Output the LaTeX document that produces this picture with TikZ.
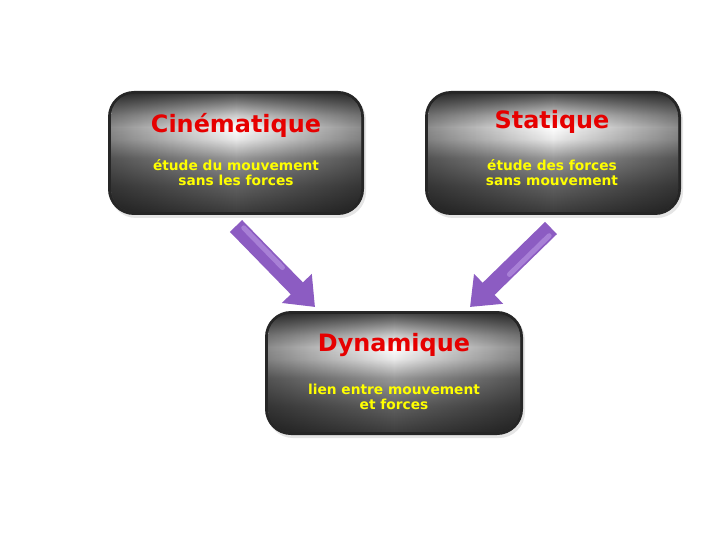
\documentclass[tikz,border=0pt]{standalone}
\usepackage{fontspec}
\setmainfont{DejaVu Sans}
\usetikzlibrary{arrows.meta,fadings,shadows,calc}
\definecolor{ttl}{RGB}{230,0,0}
\definecolor{sub}{RGB}{255,255,0}
\definecolor{arr}{RGB}{140,92,194}
\definecolor{arrlight}{RGB}{168,128,214}
\pgfdeclareverticalshading{glossy}{100bp}{
  color(0bp)=(black!78); color(25bp)=(black!76); color(36bp)=(black!62); color(48bp)=(black!40);
  color(56bp)=(black!8); color(61bp)=(white); color(66bp)=(black!20); color(75bp)=(black!70); color(100bp)=(black!70)}
\tikzfading[name=edgefade, left color=transparent!0, right color=transparent!0, middle color=transparent!100]
\tikzset{
  boxouter/.style={fill=black!85, rounded corners=26bp, drop shadow={shadow xshift=2bp,shadow yshift=-3bp,opacity=0.2}},
  boxinner/.style={shading=glossy, rounded corners=23bp},
  boxedge/.style={fill=black, path fading=edgefade, rounded corners=23bp, opacity=0.45},
  ttltext/.style={font=\bfseries\fontsize{24}{26}\selectfont, text=ttl},
  subtext/.style={font=\bfseries\fontsize{13.8}{15}\selectfont, text=sub, align=center},
  bigarrow/.style={draw=arr, line width=17bp, -{Triangle[width=40bp,length=26bp]}},
  arrowshine/.style={draw=arrlight, line width=5bp, line cap=round}
}
\newcommand{\glossbox}[4]{%
  \path[boxouter] (#1,#2) rectangle (#3,#4);
  \path[boxinner] ($(#1,#2)+(3,3)$) rectangle ($(#3,#4)+(-3,-3)$);
  \path[boxedge] ($(#1,#2)+(3,3)$) rectangle ($(#3,#4)+(-3,-3)$);
}
\begin{document}
\begin{tikzpicture}[x=1bp,y=-1bp]
\useasboundingbox[fill=white] (0,0) rectangle (720,540);
\glossbox{108}{91}{364}{215}
\glossbox{425}{91}{681}{215}
\glossbox{265}{311}{523}{435}
\node[ttltext] (cin) at (236,125) {Cinématique};
\node[subtext] (cins) at (236,173) {étude du mouvement\\sans les forces};
\node[ttltext] (sta) at (552,122) {Statique};
\node[subtext] (stas) at (552,173) {étude des forces\\sans mouvement};
\node[ttltext] (dyn) at (394,345) {Dynamique};
\node[subtext] (dyns) at (394,397) {lien entre mouvement\\et forces};
\coordinate (a1s) at (236,226);
\coordinate (a1e) at (315,307);
\coordinate (a2s) at (551,228);
\coordinate (a2e) at (470,307);
\draw[bigarrow] (a1s) -- (a1e);
\draw[bigarrow] (a2s) -- (a2e);
\draw[arrowshine] ($(a1s)!0.06!(a1e)+(3,-3)$) -- ($(a1s)!0.55!(a1e)+(3,-3)$);
\draw[arrowshine] ($(a2s)!0.06!(a2e)+(3,3)$) -- ($(a2s)!0.55!(a2e)+(3,3)$);
\end{tikzpicture}
\end{document}
